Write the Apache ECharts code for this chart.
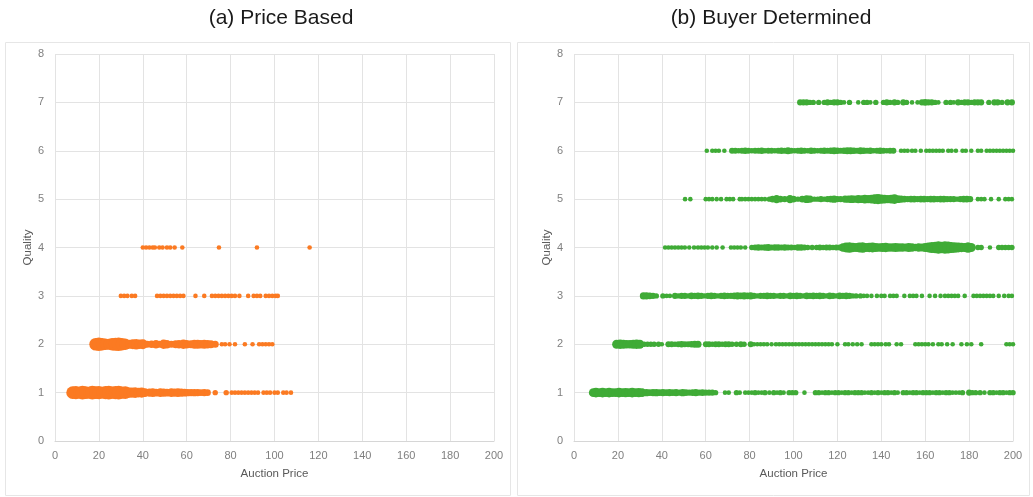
<!DOCTYPE html>
<html>
<head>
<meta charset="utf-8">
<script src="https://cdn.jsdelivr.net/npm/echarts@6/dist/echarts.min.js"></script>
<style>
  html, body { margin: 0; padding: 0; background: #ffffff; }
  #chart { width: 1033px; height: 497px; }
</style>
</head>
<body>
<div id="chart"></div>
<script>
// Auction outcomes: [auction price, number of auctions at that price] per quality level.

const priceTicks = [0, 20, 40, 60, 80, 100, 120, 140, 160, 180, 200];
const qualityTicks = [0, 1, 2, 3, 4, 5, 6, 7, 8];

// (a) Price Based
const pbQ1 = [[8,25],[9.5,28],[11,22],[12.5,30],[14,26],[15.5,22],[17,30],[18.5,26],[20,28],[21.5,22],[23,28],[24.5,30],[26,24],[27.5,28],[29,30],[30.5,24],[32,25],[33.5,16],[35,14],[36.5,16],[38,12],[39.5,14],
  [41,9],[43,8],[44.5,9],[46,7],[48,9],[49.5,8],[51,7],[53,9],[54.5,8],[56,9],[57.5,8],[59,7],[60.5,6],[62,5],[63.5,6],[65,5],[66.5,4],[68,5],[69.5,4],
  [73,2],[78,2],[80.5,1],[82,1],[83.5,1],[85,1],[86.5,1],[88,1],[89.5,1],[91,1],[92.5,1],[95,1],[96.5,1],[98,1],[100,1],[101.5,1],[104,1],[105.5,1],[107.5,1]];
const pbQ2 = [[18.5,25],[20,30],[21.5,24],[23,20],[24.5,18],[26,24],[27.5,28],[29,30],[30.5,24],[32,20],[34,10],[35.5,14],[37,15],[38.5,12],[40,14],[42,5],[44,6],[46,8],[47.5,5],[49.5,12],[51,9],[53,5],[55,7],[56.5,8],[58.5,12],[60,9],[62,7],[63.5,10],[65,11],[66.5,8],[68,10],[69.5,8],[71,7],[73,5],
  [76,1],[77.5,1],[79.5,1],[82,1],[86.5,1],[90,1],[93,1],[94.5,1],[96,1],[97.5,1],[99,1]];
const pbQ3 = [[30,1],[31.5,1],[33,1],[35,1],[36.5,1],[46.5,1],[48,1],[49.5,1],[51,1],[52.5,1],[54,1],[55.5,1],[57,1],[58.5,1],[64,1],[68,1],[71.5,1],[73,1],[74.5,1],[76,1],[77.5,1],[79,1],[80.5,1],[82,1],[84,1],[88,1],[90.5,1],[92,1],[93.5,1],[96,1],[97.5,1],[99,1],[100.5,1],[101.5,1]];
const pbQ4 = [[40,1],[41.5,1],[43,1],[44.5,1],[45.5,1],[47.5,1],[49,1],[51,1],[52.5,1],[54.5,1],[58,1],[74.7,1],[92,1],[116,1]];

// (b) Buyer Determined
const bdQ1 = [[8.8,10],[10,12],[11.5,9],[13,12],[14.5,10],[16,12],[17.5,9],[19,10],[20.5,12],[22,9],[23.5,11],[25,10],[26.5,12],[28,9],[29.5,11],[31,9],[33,6],[34.5,4],[36,5],[37.5,6],[39,4],[40.5,5],[42,4],[43.5,5],[45,4],[46.5,5],[48,3],[49.5,6],[51,4],[52.5,3],[54,4],[55.5,5],[57,3],[58.5,4],[60,3],[61.5,3],[63,3],[64.5,2],
  [68.8,1],[70.5,1],[74,2],[75.5,1],[78,1],[79.5,1],[81,1],[82.5,2],[84,1],[85.5,1],[87,2],[89,1],[91,2],[92.5,1],[94,2],[95.5,1],[98,2],[99.5,2],[101,2],[105,1],[110,2],[111.5,2],[113,1],[114.5,2],[116,2],[117.5,1],[119,2],[120.5,2],[122,1],[123.5,2],[125,2],[126.5,1],[128,2],[129.5,2],[131,2],[132.5,1],[134,1],[135.5,2],[137,1],[138.5,2],[140,1],[141.5,2],[143,2],[144.5,1],[146,2],[147.5,1],
  [150,2],[151.5,2],[153,1],[154.5,2],[156,2],[157.5,1],[159,2],[160.5,2],[162,2],[163.5,1],[165,2],[166.5,2],[168,1],[169.5,2],[171,2],[172.5,1],[174,1],[175.5,1],[177,2],[180,3],[181.5,2],[183,2],[185,2],[187,1],[189.5,2],[191,2],[192.5,1],[194,2],[195.5,2],[197,1],[198.5,2],[200,2]];
const bdQ2 = [[19.4,10],[21,12],[22.5,10],[24,9],[25.5,9],[27,10],[28.5,12],[30,10],[32,2],[33.5,2],[35,2],[36.5,2],[38.5,2],[40,1],[43,3],[44.5,3],[46,2],[47.5,3],[49,4],[50.5,3],[52,3],[53.5,4],[55,5],[56.5,5],
  [60.1,3],[61.5,3],[63,2],[64.5,3],[66,3],[67.5,2],[69,3],[70.5,3],[72,2],[74,2],[76,3],[77.5,2],[80.5,3],[82,1],[83.5,1],[85,1],[86.5,1],[88,1],[90,1],[92,1],[93.5,1],[95,1],[96.5,1],[98,1],[99.5,1],
  [101,1],[102.5,1],[104,1],[105.5,1],[107,1],[108.5,1],[110,1],[111.5,1],[113,1],[114.5,1],[116,1],[117.5,1],[120,1],[123.5,1],[125,1],[127,1],[129,1],[131,1],[135.5,1],[137,1],[138.5,1],[140,1],[142,1],[143.5,1],[147,1],[149,1],
  [155.5,1],[157,1],[158.5,1],[160,1],[161.5,1],[163.5,1],[166,1],[167.5,1],[170,1],[172.5,1],[176.5,1],[179,1],[181,1],[185.5,1],[197,1],[198.5,1],[200,1]];
const bdQ3 = [[31.6,5],[33,5],[34.5,4],[36,3],[37.5,2],[40.5,2],[42.2,1],[43.7,1],[46,3],[47.5,2],[49,3],[50.5,3],[52,2],[53.5,4],[55,3],[56.5,4],[58,3],[59.5,2],[61,3],[62.5,4],[64,3],[65.5,2],[67,3],[68.5,4],[70,3],[71.5,3],[73,4],[74.5,5],[76,4],[77.5,5],[79,4],[80.5,5],[82,3],[83.5,2],[85,3],[86.5,3],[88,4],[89.5,3],[91,3],[92.5,2],[94,3],[95.5,3],[97,2],[98.5,4],
  [100,3],[101.5,4],[103,3],[104.5,2],[106,4],[107.5,3],[109,4],[110.5,3],[112,4],[113.5,3],[115,2],[116.5,4],[118,3],[119.5,2],[121,4],[122.5,3],[124,4],[125.5,3],[127,2],[128.5,2],[130.5,2],[132,1],[133.5,1],[135.5,1],[138,1],[140,1],[141.5,1],[144,1],[145.5,1],[147,1],
  [150.5,1],[153,1],[154.5,1],[156,1],[158.5,1],[162,1],[164.5,1],[167,1],[169,1],[170.5,1],[172,1],[173.5,1],[175,1],[178,1],[182,1],[183.5,1],[185,1],[186.5,1],[188,1],[189.5,1],[191,1],[193.5,1],[196,1],[198,1],[199.5,1]];
const bdQ4 = [[41.5,1],[43,1],[44.5,1],[46,1],[47.5,1],[49,1],[50.5,1],[52.5,1],[54.7,1],[56.5,1],[58,1],[59.5,1],[61,1],[63,1],[65,1],[67.7,1],[71.5,1],[73,1],[74.5,1],[76,1],[78,1],
  [81,2],[82.5,3],[84,4],[85.5,3],[87,4],[88.5,5],[90,3],[91.5,4],[93,4],[94.5,3],[96,4],[97.5,3],[99,3],[100.5,2],[102,4],[103.5,4],[105,3],[106.5,2],[108.5,2],[110.5,2],[112,3],[113.5,2],[115,3],[116.5,3],[118,2],[119.5,3],[121,3],
  [122.5,8],[124,14],[125.5,16],[127,12],[128.5,10],[130,14],[131.5,16],[133,11],[134.5,12],[136,14],[137.5,11],[139,9],[140.5,10],[142,12],[143.5,8],[145,9],[146.5,11],[148,8],[149.5,9],[151,7],[152.5,10],[154,8],[155.5,6],[157,8],[158.5,7],[160,10],
  [161.5,14],[163,18],[164.5,20],[166,24],[167.5,20],[169,24],[170.5,22],[172,18],[173.5,16],[175,14],[176.5,12],[178,10],[179.5,16],[181,10],[184,2],[185.5,2],[189.5,1],[193.5,2],[195,2],[196.5,2],[198,2],[199.5,2]];
const bdQ5 = [[50.6,1],[53,1],[60,1],[61.5,1],[63,1],[65,1],[67,1],[69.5,1],[71,1],[72.5,1],[75.5,1],[76.5,1],[78,1],[79.5,1],[81,1],[82.5,1],[84,1],[85.5,1],[87,1],[89,2],[90.5,4],[92.3,8],[94,4],[96,3],[98.4,8],[100,4],[102,2],[104,4],[106,7],[107.5,5],[109.5,2],[111,2],[112.5,3],[114,2],[115.5,3],[117,4],[118.5,6],[120,3],[121.5,3],
  [123.5,5],[125,6],[126.5,7],[128,6],[129.5,8],[131,7],[132.5,10],[134,8],[135.5,10],[137,12],[138.5,14],[140,11],[141.5,10],[143,8],[144.5,10],[146,12],[147.5,7],[149,5],[150.5,4],[152,3],[153.5,4],[155,4],[156.5,3],[158,4],[159.5,4],[161,3],[162.5,4],[164,4],[165.5,3],[167,4],[168.5,4],[170,3],[171.5,3],[173,3],[174.5,2],[176,3],[177.5,4],[179,4],[180.5,3],
  [184,1],[185.5,1],[187,1],[190,1],[193.5,1],[196.5,1],[198,1],[199.5,1]];
const bdQ6 = [[60.5,1],[63,1],[64.5,1],[66,1],[68.5,1],[72,3],[73.5,3],[75,2],[76.5,3],[78,4],[79.5,3],[81,2],[82.5,3],[84,3],[85.5,4],[87,2],[88.5,3],[90,3],[91.5,2],[93,3],[94.5,4],[96,3],[97.5,5],
  [99,3],[100.5,2],[102,3],[103.5,4],[105,3],[106.5,2],[108,4],[109.5,3],[111,2],[112.5,3],[114,4],[115.5,3],[117,4],[118.5,5],[120,4],[121.5,3],[123,4],[124.5,5],[126,5],[127.5,4],[129,3],[130.5,5],[132,4],[133.5,3],[135,4],[136.5,2],[138,3],[139.5,4],[141,3],[142.5,2],[144,3],[145.5,3],
  [149,1],[150.5,1],[152,1],[154,1],[155.5,1],[158,1],[160.5,1],[162,1],[163.5,1],[165,1],[166.5,1],[168,1],[170.5,1],[172,1],[174,1],[177,1],[178.5,1],[181,1],[184,1],[185.5,1],[188,1],[189.5,1],[191,1],[192.5,1],[194,1],[195.5,1],[197,1],[198.5,1],[200,1]];
const bdQ7 = [[103,3],[104.5,3],[106,3],[107.5,2],[109,2],[111.5,2],[114,2],[115.5,3],[117,2],[118.5,3],[120,3],[121.5,2],[123,1],[125.5,2],[129.5,1],[132,2],[133.5,2],[135,1],[137.5,2],
  [141,2],[142.5,3],[144,2],[146,3],[147.5,2],[150,3],[151.5,2],[154,1],[156.5,1],[158.5,3],[160,4],[161.5,3],[163,3],[164.5,2],[166,1],[169.5,2],
  [171.5,2],[173,1],[175,3],[176.5,2],[178,3],[179.5,3],[181,2],[182.5,3],[184,3],[185.5,3],[189,2],[191.5,3],[193,3],[195,2],[197.5,3],[199.5,3]];

const priceBasedRows = [pbQ1, pbQ2, pbQ3, pbQ4];
const buyerDeterminedRows = [bdQ1, bdQ2, bdQ3, bdQ4, bdQ5, bdQ6, bdQ7];

const ORANGE = '#fb7a22';
const GREEN = '#3fab36';
const FONT = "'Liberation Sans', Arial, sans-serif";

function toPoints(rows) {
  const out = [];
  rows.forEach((row, i) => row.forEach(([price, count]) => out.push([price, i + 1, count])));
  return out;
}
// marker diameter grows with the number of auctions at a price
const markerSize = v => 2.6 + 2 * Math.sqrt(v[2]);

function xAxisFor(gridIndex) {
  return {
    gridIndex, type: 'value', min: priceTicks[0], max: priceTicks[priceTicks.length - 1], interval: 20,
    name: 'Auction Price', nameLocation: 'middle', nameGap: 27,
    nameTextStyle: { color: '#595959', fontSize: 11.5, fontFamily: FONT },
    axisLine: { show: true, lineStyle: { color: '#d6d6d6', width: 1 } },
    axisTick: { show: false },
    axisLabel: { color: '#7f7f7f', fontSize: 11, fontFamily: FONT, margin: 9 },
    splitLine: { show: true, lineStyle: { color: '#e3e3e3', width: 1 } }
  };
}
function yAxisFor(gridIndex) {
  return {
    gridIndex, type: 'value', min: qualityTicks[0], max: qualityTicks[qualityTicks.length - 1], interval: 1,
    name: 'Quality', nameLocation: 'middle', nameGap: 18,
    nameTextStyle: { color: '#595959', fontSize: 11.5, fontFamily: FONT },
    axisLine: { show: false }, axisTick: { show: false },
    axisLabel: { color: '#7f7f7f', fontSize: 11, fontFamily: FONT, margin: 11 },
    splitLine: { show: true, lineStyle: { color: '#e3e3e3', width: 1 } }
  };
}

const chart = echarts.init(document.getElementById('chart'), null, { renderer: 'canvas' });
chart.setOption({
  backgroundColor: '#ffffff',
  animation: false,
  graphic: [
    { type: 'rect', shape: { x: 5.5, y: 42.5, width: 505, height: 453 }, style: { fill: 'none', stroke: '#e6e6e6', lineWidth: 1 }, z: 0 },
    { type: 'rect', shape: { x: 517.5, y: 42.5, width: 512, height: 453 }, style: { fill: 'none', stroke: '#e6e6e6', lineWidth: 1 }, z: 0 },
    { type: 'text', x: 281, y: 18, style: { text: '(a) Price Based', font: "21px 'Liberation Sans', Arial, sans-serif", fill: '#1a1a1a', textAlign: 'center', textVerticalAlign: 'middle' } },
    { type: 'text', x: 771, y: 18, style: { text: '(b) Buyer Determined', font: "21px 'Liberation Sans', Arial, sans-serif", fill: '#1a1a1a', textAlign: 'center', textVerticalAlign: 'middle' } }
  ],
  grid: [
    { left: 55, right: 539, top: 54, bottom: 56 },
    { left: 574, right: 20, top: 54, bottom: 56 }
  ],
  xAxis: [xAxisFor(0), xAxisFor(1)],
  yAxis: [yAxisFor(0), yAxisFor(1)],
  series: [
    { type: 'scatter', name: 'Price Based', xAxisIndex: 0, yAxisIndex: 0, data: toPoints(priceBasedRows),
      symbolSize: markerSize, itemStyle: { color: ORANGE, opacity: 1 }, emphasis: { disabled: true } },
    { type: 'scatter', name: 'Buyer Determined', xAxisIndex: 1, yAxisIndex: 1, data: toPoints(buyerDeterminedRows),
      symbolSize: markerSize, itemStyle: { color: GREEN, opacity: 1 }, emphasis: { disabled: true } }
  ]
});
</script>
</body>
</html>
